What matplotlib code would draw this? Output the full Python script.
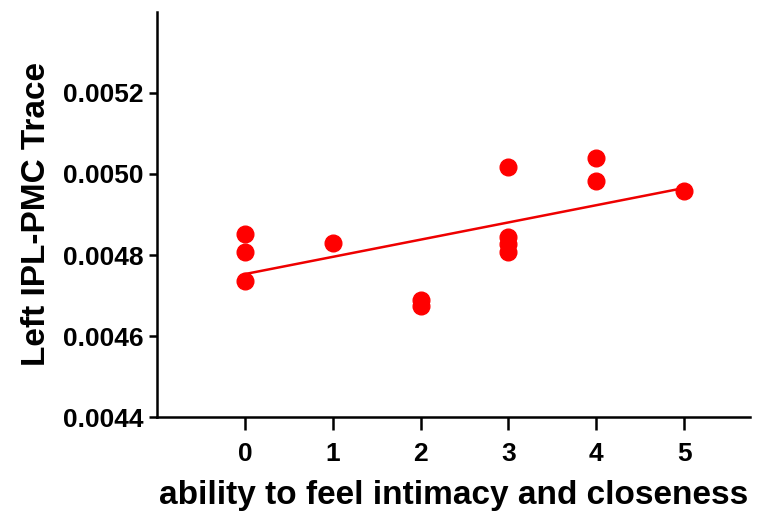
import numpy as np
import matplotlib
matplotlib.use("Agg")
import matplotlib.pyplot as plt

plt.rcParams['font.family'] = ['Liberation Sans', 'DejaVu Sans']

x_vals = [0, 0, 0, 1, 2, 2, 3, 3, 3, 3, 4, 4, 5]
y_vals = [0.004852, 0.004807, 0.004736, 0.004830, 0.004688, 0.004674,
          0.005017, 0.004845, 0.004827, 0.004807, 0.005040, 0.004983, 0.004958]
x_ticks = [0, 1, 2, 3, 4, 5]
y_ticks = [0.0044, 0.0046, 0.0048, 0.0050, 0.0052]
y_tick_labels = ["0.0044", "0.0046", "0.0048", "0.0050", "0.0052"]
x_label = "ability to feel intimacy and closeness"
y_label = "Left IPL-PMC Trace"

fig = plt.figure(figsize=(7.63, 5.15), dpi=100)
ax = fig.add_axes([0.206, 0.19, 0.777, 0.787])

ax.plot(x_vals, y_vals, 'o', color='#ff0000', markersize=12, zorder=3, clip_on=False)
slope, intercept = np.polyfit(x_vals, y_vals, 1)
xf = np.array([min(x_vals), max(x_vals)])
ax.plot(xf, slope * xf + intercept, color='#ee0000', lw=1.8, zorder=2)

ax.set_xlim(-1, 5.75)
ax.set_ylim(0.0044, 0.0054)
ax.set_xticks(x_ticks)
ax.set_yticks(y_ticks)
ax.set_yticklabels(y_tick_labels)
for s in ['top', 'right']:
    ax.spines[s].set_visible(False)
for s in ['left', 'bottom']:
    ax.spines[s].set_linewidth(1.8)
ax.tick_params(axis='y', width=1.8, length=6, labelsize=19, pad=4)
ax.tick_params(axis='x', width=1.8, length=9, labelsize=19, pad=9)
for lab in ax.get_xticklabels() + ax.get_yticklabels():
    lab.set_fontweight('bold')
ax.set_xlabel(x_label, fontsize=24, fontweight='bold', labelpad=10)
ax.set_ylabel(y_label, fontsize=24, fontweight='bold', labelpad=8)

fig.savefig("out.png", dpi=100)
